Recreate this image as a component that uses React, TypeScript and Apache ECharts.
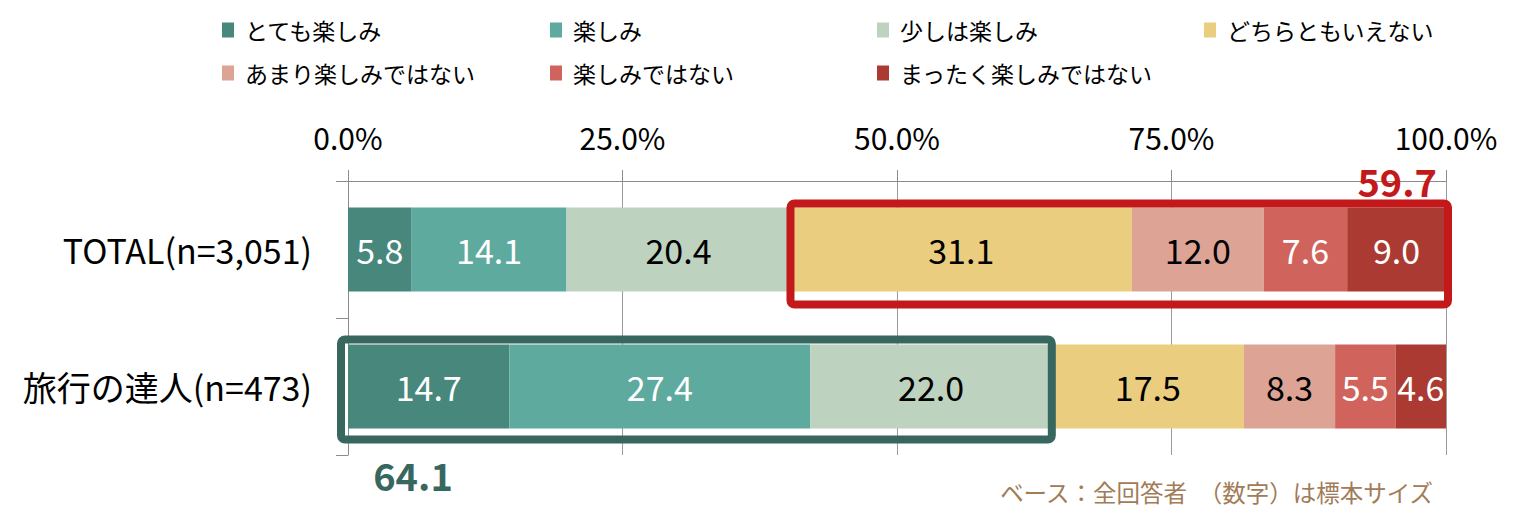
import React, { useEffect, useRef } from "react";
import * as echarts from "echarts";

// Survey rows (top to bottom)
const categories = ["TOTAL(n=3,051)", "旅行の達人(n=473)"];

// Answer options, in stacking order
const seriesNames = [
  "とても楽しみ",
  "楽しみ",
  "少しは楽しみ",
  "どちらともいえない",
  "あまり楽しみではない",
  "楽しみではない",
  "まったく楽しみではない",
];

const seriesColors = ["#47877C", "#5FAA9F", "#BDD2BF", "#EBCD7F", "#DDA395", "#D0645C", "#AB3B32"];
const labelColors = ["#ffffff", "#ffffff", "#000000", "#000000", "#000000", "#ffffff", "#ffffff"];

// Percentages per row
const totalValues = [5.8, 14.1, 20.4, 31.1, 12.0, 7.6, 9.0];
const expertValues = [14.7, 27.4, 22.0, 17.5, 8.3, 5.5, 4.6];

// Value axis ticks
const xTicks = [0, 25, 50, 75, 100];

const footnote = "ベース：全回答者　（数字）は標本サイズ";

const FONT = '"Noto Sans CJK JP", "Noto Sans", sans-serif';

// Legend layout: two rows, fixed columns
const legendColumns = [222, 550, 877, 1204];
const legendRows = [17, 60];

const sum = (arr: number[]) => arr.reduce((a, b) => a + b, 0);

export default function App() {
  const ref = useRef<HTMLDivElement>(null);

  useEffect(() => {
    if (!ref.current) return;
    const chart = echarts.init(ref.current, undefined, { renderer: "svg" });

    const legends = seriesNames.map((name, i) => ({
      show: true,
      data: [name],
      left: legendColumns[i % 4],
      top: legendRows[Math.floor(i / 4)],
      padding: 0,
      icon: "rect",
      itemWidth: 12,
      itemHeight: 15,
      selectedMode: false,
      textStyle: {
        fontFamily: FONT,
        fontSize: 23,
        lineHeight: 26,
        color: "#000000",
        padding: [0, 0, 0, 6],
      },
    }));

    const series = seriesNames.map((name, i) => ({
      name,
      type: "bar",
      stack: "all",
      barWidth: 84,
      data: [totalValues[i], expertValues[i]],
      itemStyle: { color: seriesColors[i] },
      emphasis: { disabled: true },
      label: {
        show: true,
        position: "inside",
        color: labelColors[i],
        fontFamily: FONT,
        fontSize: 34,
        formatter: (p: any) => Number(p.value).toFixed(1),
      },
    }));

    chart.setOption({
      animation: false,
      legend: legends,
      grid: { left: 348, right: 73, top: 181, bottom: 70, containLabel: false },
      xAxis: {
        type: "value",
        position: "top",
        min: xTicks[0],
        max: xTicks[xTicks.length - 1],
        interval: xTicks[1] - xTicks[0],
        axisLine: { show: true, lineStyle: { color: "#8C8C8C", width: 1 } },
        axisTick: { show: true, length: 11, lineStyle: { color: "#8C8C8C" } },
        splitLine: { show: true, lineStyle: { color: "#9A9A9A", width: 1 } },
        axisLabel: {
          fontFamily: FONT,
          fontSize: 30,
          color: "#000000",
          margin: 29,
          formatter: (v: number) => `${v.toFixed(1)}%`,
        },
      },
      yAxis: {
        type: "category",
        data: categories,
        inverse: true,
        axisLine: { show: true, lineStyle: { color: "#8C8C8C", width: 1 } },
        axisTick: { show: true, length: 12, lineStyle: { color: "#8C8C8C" } },
        axisLabel: { fontFamily: FONT, fontSize: 34, color: "#000000", margin: 36 },
      },
      series,
    });

    // Highlight boxes around the grouped answers
    const px = (v: number, row: number) =>
      chart.convertToPixel({ gridIndex: 0 }, [v, row]) as number[];
    const half = 42;

    const negStart = sum(totalValues.slice(0, 3));
    const negShare = sum(totalValues.slice(3));
    const [rx1, ry] = px(negStart, 0);
    const [rx2] = px(sum(totalValues), 0);
    const red = { x1: rx1, x2: rx2 + 2, y1: ry - half - 4, y2: ry + half + 13 };

    const posShare = sum(expertValues.slice(0, 3));
    const [gx1, gy] = px(0, 1);
    const [gx2] = px(posShare, 1);
    const green = { x1: gx1 - 7, x2: gx2, y1: gy - half - 5, y2: gy + half + 11 };

    chart.setOption({
      graphic: [
        {
          type: "rect",
          z: 100,
          shape: { x: red.x1, y: red.y1, width: red.x2 - red.x1, height: red.y2 - red.y1, r: 4 },
          style: { fill: "none", stroke: "#C3191A", lineWidth: 8 },
        },
        {
          type: "text",
          z: 100,
          style: {
            text: negShare.toFixed(1),
            x: red.x2 - 11,
            y: red.y1 - 23,
            align: "right",
            verticalAlign: "middle",
            fill: "#C3191A",
            fontFamily: FONT,
            fontWeight: "bold",
            fontSize: 38,
          },
        },
        {
          type: "rect",
          z: 100,
          shape: { x: green.x1, y: green.y1, width: green.x2 - green.x1, height: green.y2 - green.y1, r: 4 },
          style: { fill: "none", stroke: "#38675F", lineWidth: 8 },
        },
        {
          type: "text",
          z: 100,
          style: {
            text: posShare.toFixed(1),
            x: green.x1 + 72,
            y: green.y2 + 35,
            align: "center",
            verticalAlign: "middle",
            fill: "#38675F",
            fontFamily: FONT,
            fontWeight: "bold",
            fontSize: 38,
          },
        },
        {
          type: "text",
          z: 100,
          style: {
            text: footnote,
            x: 1433,
            y: 492,
            align: "right",
            verticalAlign: "middle",
            fill: "#A27B57",
            fontFamily: FONT,
            fontSize: 23.5,
          },
        },
      ],
    });

    return () => chart.dispose();
  }, []);

  return (
    <div
      ref={ref}
      style={{ position: "fixed", left: 0, top: 0, width: 1519, height: 525, background: "#ffffff" }}
    />
  );
}
